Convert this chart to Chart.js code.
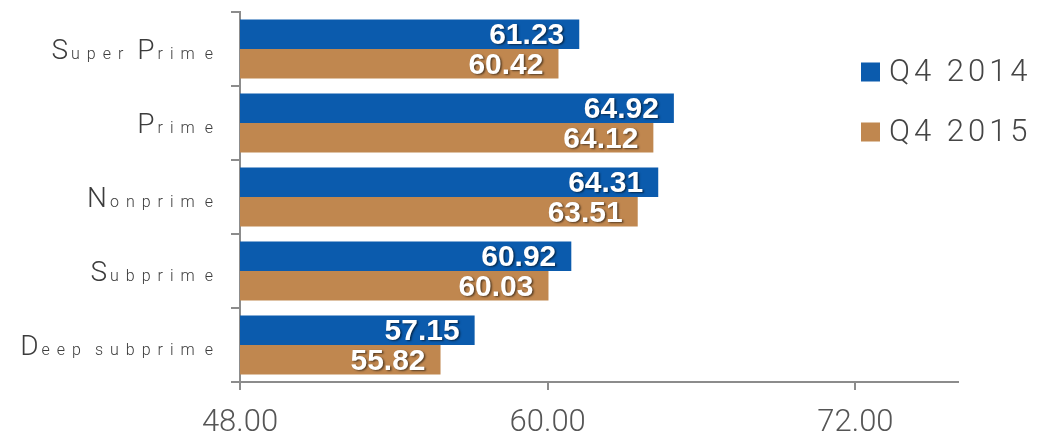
<!DOCTYPE html>
<html>
<head>
<meta charset="utf-8">
<script src="https://cdn.jsdelivr.net/npm/chart.js@4/dist/chart.umd.min.js"></script>
<style>
  html, body { margin: 0; padding: 0; background: #ffffff; }
  #wrap { width: 1050px; height: 436px; position: relative; }
</style>
</head>
<body>
<div id="wrap"><canvas id="c"></canvas></div>
<script>
// Credit tiers and average values per quarter
const categories = ['Super Prime', 'Prime', 'Nonprime', 'Subprime', 'Deep subprime'];
const seriesNames = ['Q4 2014', 'Q4 2015'];
const q4_2014 = [61.23, 64.92, 64.31, 60.92, 57.15];
const q4_2015 = [60.42, 64.12, 63.51, 60.03, 55.82];
const xTickValues = [48, 60, 72];
const xMin = 48;
const xMax = 76;

const BLUE = '#0B5BAD';
const TAN = '#C0874F';
const AXIS = '#8c8c8c';
const LIGHT_FONT = 'Roboto, "Liberation Sans", sans-serif';

// Draws text one character at a time with extra tracking
function drawTracked(ctx, text, x, y, tracking) {
  for (const ch of text) {
    ctx.fillText(ch, x, y);
    x += ctx.measureText(ch).width + tracking;
  }
}

// Category labels: capitals large, lowercase small and spaced out
const categoryLabels = {
  id: 'categoryLabels',
  afterDraw(chart) {
    const ctx = chart.ctx;
    const y = chart.scales.y;
    const bigFont = '300 28px ' + LIGHT_FONT;
    const smallFont = '300 16px ' + LIGHT_FONT;
    const rightX = 213;
    ctx.save();
    ctx.fillStyle = '#3c3c3c';
    ctx.textBaseline = 'alphabetic';
    ctx.textAlign = 'left';
    y.ticks.forEach((t, i) => {
      const text = chart.data.labels[i];
      const py = y.getPixelForTick(i);
      const parts = [];
      let total = 0;
      const chars = Array.from(text);
      chars.forEach((ch, k) => {
        const big = ch >= 'A' && ch <= 'Z';
        ctx.font = big ? bigFont : smallFont;
        const w = ctx.measureText(ch).width;
        let adv;
        if (big) adv = w + 3;
        else if (ch === ' ') adv = 7;
        else adv = w + 7 + (ch === 'm' ? 3 : 0);
        if (k === chars.length - 1) adv = w;
        parts.push({ ch, big, adv });
        total += adv;
      });
      let x = rightX - total;
      parts.forEach(p => {
        ctx.font = p.big ? bigFont : smallFont;
        ctx.fillText(p.ch, x, py + 10);
        x += p.adv;
      });
    });
    ctx.restore();
  }
};

// Value labels inside the end of each bar
const valueLabels = {
  id: 'valueLabels',
  afterDatasetsDraw(chart) {
    const ctx = chart.ctx;
    ctx.save();
    ctx.font = 'bold 30px "Liberation Sans", Arial, sans-serif';
    ctx.textAlign = 'right';
    ctx.textBaseline = 'middle';
    ctx.fillStyle = '#ffffff';
    ctx.shadowColor = 'rgba(0,0,0,0.55)';
    ctx.shadowOffsetX = 1.5;
    ctx.shadowOffsetY = 1.5;
    ctx.shadowBlur = 2;
    chart.data.datasets.forEach((ds, di) => {
      const meta = chart.getDatasetMeta(di);
      meta.data.forEach((bar, i) => {
        ctx.fillText(ds.data[i].toFixed(2), bar.x - 15, bar.y + 1.5);
      });
    });
    ctx.restore();
  }
};

// Legend at the upper right
const sideLegend = {
  id: 'sideLegend',
  afterDraw(chart) {
    const ctx = chart.ctx;
    ctx.save();
    ctx.font = '300 31px ' + LIGHT_FONT;
    ctx.textBaseline = 'middle';
    ctx.textAlign = 'left';
    chart.data.datasets.forEach((ds, i) => {
      const cy = 72 + i * 60;
      ctx.fillStyle = ds.backgroundColor;
      ctx.fillRect(861, cy - 9.5, 19, 19);
      ctx.fillStyle = '#454545';
      drawTracked(ctx, ds.label, 889, cy + 1, 4);
    });
    ctx.restore();
  }
};

new Chart(document.getElementById('c'), {
  type: 'bar',
  data: {
    labels: categories,
    datasets: [
      { label: seriesNames[0], data: q4_2014, backgroundColor: BLUE },
      { label: seriesNames[1], data: q4_2015, backgroundColor: TAN }
    ]
  },
  options: {
    indexAxis: 'y',
    responsive: true,
    maintainAspectRatio: false,
    animation: false,
    layout: { padding: { top: 12, right: 92, left: 0, bottom: 0 } },
    datasets: { bar: { categoryPercentage: 0.8, barPercentage: 1.0 } },
    plugins: {
      legend: { display: false },
      tooltip: { enabled: false }
    },
    scales: {
      x: {
        type: 'linear',
        min: xMin,
        max: xMax,
        afterBuildTicks(scale) {
          scale.ticks = xTickValues.map(v => ({ value: v }));
        },
        afterFit(scale) { scale.height = 54; },
        ticks: {
          callback: v => Number(v).toFixed(2),
          font: { family: LIGHT_FONT, size: 31, weight: '300' },
          color: '#555555',
          padding: 15,
          maxRotation: 0
        },
        grid: { drawOnChartArea: false, drawTicks: true, tickLength: 8, color: AXIS, lineWidth: 2 },
        border: { color: AXIS, width: 2 }
      },
      y: {
        type: 'category',
        afterFit(scale) { scale.width = 240; },
        ticks: { display: false },
        grid: { offset: true, drawOnChartArea: false, drawTicks: true, tickLength: 9, color: AXIS, lineWidth: 2 },
        border: { color: AXIS, width: 2 }
      }
    }
  },
  plugins: [categoryLabels, valueLabels, sideLegend]
});
</script>
</body>
</html>
